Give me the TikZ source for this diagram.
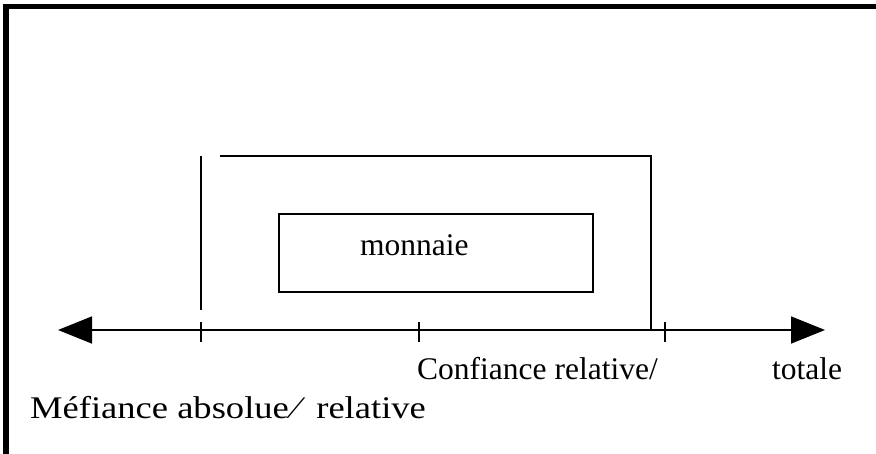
\documentclass[tikz,border=0pt]{standalone}
\usepackage{fontspec}
\setmainfont{Liberation Serif}
\newfontfamily\widefont[FakeStretch=1.16]{Liberation Serif}
\usepackage{tikz}
\usetikzlibrary{arrows.meta,calc}
\tikzset{
    frame/.style = {draw, line width=5.5pt},
    thin/.style = {draw, line width=1.6pt},
    axis/.style = {thin, {Triangle[length=34pt,width=27pt]}-{Triangle[length=34pt,width=27pt]}},
    label/.style = {inner sep=0pt, anchor=base west, font=\fontsize{31.5}{38}\selectfont}
}

\begin{document}
\begin{tikzpicture}[x=1pt,y=-1pt]
            \useasboundingbox (0,0) rectangle (876,454);
            % cadre
            \coordinate (fb) at (6,454);
            \coordinate (fc) at (6,6.5);
            \coordinate (fr) at (876,6.5);
            \draw[frame] (fb) -- (fc) -- (fr);
            % axe
            \coordinate (aL) at (58,330);
            \coordinate (aR) at (825,330);
            \draw[axis] (aL) -- (aR);
            \foreach \n/\x in {t1/201,t2/419,t3/665} {
                \coordinate (\n a) at (\x,322);
                \coordinate (\n b) at (\x,342);
                \draw[thin] (\n a) -- (\n b);
            }
            % cadres
            \coordinate (v1) at (201,156);
            \coordinate (v2) at (201,310);
            \draw[thin] (v1) -- (v2);
            \coordinate (o1) at (220,156);
            \coordinate (o2) at (651,156);
            \coordinate (o3) at (651,330);
            \draw[thin] (o1) -- (o2) -- (o3);
            \coordinate (b1) at (279,214);
            \coordinate (b2) at (593,292);
            \draw[thin] (b1) rectangle (b2);
            % textes
            \node[label] (money) at (360,256) {monnaie};
            \node[label] (conf) at (417,380) {Confiance relative/};
            \node[label] (tot) at (772,380) {totale};
            \node[label] (mef) at (30,418) {\widefont Méfiance absolue\kern4pt⁄\hspace{0.55em}relative};
        \end{tikzpicture}
\end{document}
